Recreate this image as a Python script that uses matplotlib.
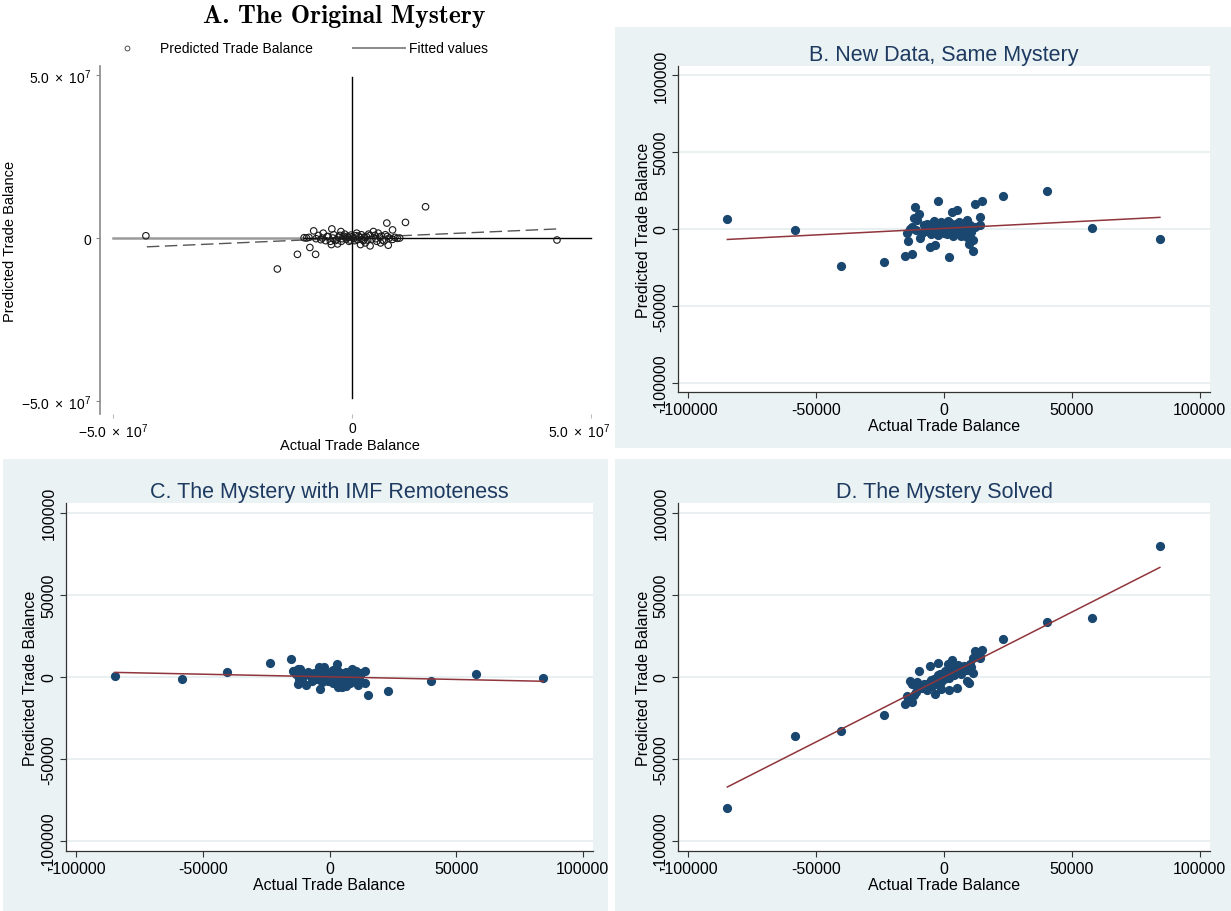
import numpy as np
import matplotlib.pyplot as plt
import matplotlib.transforms as mtransforms
from matplotlib.patches import Rectangle
from matplotlib.lines import Line2D

plt.rcParams['font.family'] = ['Liberation Sans', 'DejaVu Sans']
plt.rcParams['mathtext.fontset'] = 'custom'
plt.rcParams['mathtext.rm'] = 'Liberation Sans'
plt.rcParams['mathtext.it'] = 'Liberation Sans:italic'

W, H = 1231, 912

# ---- panel A data (units of 1e7) ----
xa = [-4.31, 4.29, 1.54, 1.12, 0.73, 0.85, -1.56, -1.14, -0.76, -0.88, -0.80, -0.42,
      -0.23, 0.38, 0.18, 0.76, -0.43,
      -0.95, -0.90, -0.75, -0.70, -0.62, -0.55, -0.50, -0.45, -0.38, -0.32, -0.28,
      -0.22, -0.18, -0.12, -0.08, -0.04, 0.00, 0.04, 0.08, 0.12, 0.16, 0.20, 0.24,
      0.30, 0.35, 0.42, 0.48, 0.52, 0.58, 0.64, 0.70, 0.78, 0.85, 0.90, 0.95,
      -0.60, 0.45, 0.60, -0.30, 0.10, -0.15, 0.28, 0.55,
      -0.65, -0.52, -0.40, -0.35, -0.25, -0.20, -0.10, -0.06, -0.02, 0.02,
      0.06, 0.14, 0.22, 0.26, 0.33, 0.38, 0.50, 0.62, 0.67, 0.74, 1.00, -1.00]
ya = [0.07, -0.06, 0.96, 0.48, 0.46, 0.25, -0.95, -0.50, -0.50, -0.29, 0.22, 0.28,
      0.20, -0.24, -0.20, -0.22, -0.20,
      0.00, 0.02, -0.02, 0.08, 0.00, -0.08, 0.05, -0.10, 0.10, -0.05, 0.03,
      -0.10, 0.06, -0.03, 0.02, -0.06, 0.04, -0.02, 0.07, -0.05, 0.02, 0.10, -0.08,
      0.05, 0.12, -0.03, 0.08, -0.10, 0.03, -0.06, 0.10, 0.00, -0.04, 0.02, -0.01,
      0.15, 0.20, -0.15, -0.18, 0.15, 0.12, -0.15, 0.15,
      -0.05, 0.04, 0.00, -0.08, 0.08, -0.02, 0.05, -0.10, 0.09, 0.00,
      -0.08, 0.06, -0.04, 0.03, -0.06, 0.08, -0.02, 0.06, -0.09, 0.05, 0.00, 0.01]
fit_a = (0.064, 0.005)          # slope, intercept (1e7 units)
fit_a_range = (-4.29, 4.31)

# ---- panels B, C, D data (same actual trade balance) ----
actual = [-84700, -58300, -40400, -23400, -15300, -12600, 23100, 40100, 58000, 84400,
          15000, 12300, 14200, 13900, -11500, -9700, -11900, -10600, -14400, -14200,
          -13400, -9200, -5600, -3600, -2300, 1900, 3100, 5100, 8900, 11200,
          11500, 9700, 8900, 3400, -4100, -1200, -12400, -8000, -7000, -6000,
          -5000, -4500, -3500, -3000, -2500, -2000, -1500, -1000, -500, 0,
          500, 1000, 1500, 2000, 2500, 3000, 3500, 4000, 4500, 5000,
          5500, 6000, 6500, 7000, 7500, 8000, 9000, 10000, 10500, -6500,
          -8500, 6500, 12000, -11000, 1500]
pred_b = [6700, -400, -24300, -21700, -17800, -16300, 21700, 24500, 700, -6500,
          18000, 16300, 2800, 7600, 14300, 10000, 7400, 5600, -2400, -7600,
          200, -5600, -11900, -10600, 18500, -18000, 10900, 12200, 6100, -14300,
          -7400, -9600, -5200, -4800, 5000, 4600, 1000, 2500, -1500, 1000,
          -3500, 3500, -2000, 1500, -4000, 2500, -1000, 500, 3000, -2500,
          1500, -3500, 2000, -500, 4000, -2000, 1000, -3000, 3500, 500,
          -1500, 4500, -1000, 2000, -3500, 1000, -1000, 2500, -2000, 3500,
          -2500, -4500, 1500, -500, 5000]
pred_c = [600, -1400, 3000, 8300, 11000, -4100, -8300, -2600, 1600, -600,
          -11200, 2500, 3900, -3400, 4800, 2000, -1500, 800, 3700, 3400,
          2000, -4700, 1200, -7300, 5900, -2000, 7700, -6100, 4700, -5100,
          -2000, 2500, -1800, -6100, 6100, 2300, 5100, 1500, -2500, 2500,
          -1000, 3000, 1500, -3000, 500, 3500, -1500, 1000, -2500, 2000,
          -500, 3500, -3500, 1500, -1000, 4000, -2500, 500, 2500, -4500,
          1500, -3000, 3000, -1500, 1000, -3500, 2000, -2500, 3500, -500,
          3000, -5500, 1500, -2500, 4500]
pred_d = [-79900, -35900, -33100, -22900, -16400, -15400, 23100, 33500, 35900, 79900,
          16600, 15600, 11600, 12500, -4500, 3900, -11200, -3000, -11600, -12800,
          -2200, -5800, 6700, -10300, 8300, -7700, 10500, -6700, 5200, 2400,
          11600, -3400, -2500, 3000, -1500, -7100, -4000, -4500, -6000, -3500,
          -2000, -5500, -1000, -4000, 1000, -2500, 2000, -3000, 1500, -1000,
          3500, 500, 4500, -500, 6000, 2500, 5500, 1000, 6500, 3000,
          7500, 4000, 2000, 6000, 3500, 7000, 4500, 8000, 6000, -8000,
          -6500, 5000, 12500, -9000, 8000]
fit_b = (0.085, 400)
fit_c = (-0.032, 100)
fit_d = (0.791, 0)

ticks = [-100000, -50000, 0, 50000, 100000]

BG = '#EAF2F3'
GRID = '#E4EDEF'
NAVY = '#1A476F'
MAROON = '#90353B'
TITLE = '#1E3A60'


def rect(l, t, r, b):
    return [l / W, 1 - b / H, (r - l) / W, (b - t) / H]


fig = plt.figure(figsize=(W / 100, H / 100), dpi=100)

# ---------------- panel A ----------------
axA = fig.add_axes(rect(100, 67, 600, 415))
xa_ = np.array(xa) * 1e7
ya_ = np.array(ya) * 1e7
axA.plot([0, 0], [-4.9e7, 4.95e7], color='black', lw=1, zorder=2)
axA.plot([-5e7, 0], [0, 0], color='#9a9a9a', lw=1.8, zorder=2)
axA.plot([-1e7, 5e7], [0, 0], color='black', lw=1, zorder=2)
fx = np.array(fit_a_range) * 1e7
axA.plot(fx, fit_a[0] * fx + fit_a[1] * 1e7, color='#555555', lw=1,
         dashes=(9, 4), zorder=2)
axA.scatter(xa_, ya_, s=22, facecolors='none', edgecolors='#1a1a1a',
            linewidths=0.8, zorder=3)
axA.set_xlim(-5.27e7, 5.19e7)
axA.set_ylim(-5.4e7, 5.28e7)
for s in ['top', 'right', 'bottom']:
    axA.spines[s].set_visible(False)
axA.spines['left'].set_color('#8a8a8a')
axA.spines['left'].set_linewidth(1.2)
tA = [-5e7, 0, 5e7]
labA = [r'$-5.0\ \times\ 10^{7}$', '0', r'$5.0\ \times\ 10^{7}$']
axA.set_xticks(tA)
axA.set_xticklabels(labA, fontsize=10)
axA.set_yticks(tA)
axA.set_yticklabels(labA, fontsize=10)
axA.tick_params(axis='x', length=3, color='#bbbbbb', pad=2)
axA.tick_params(axis='y', length=3, color='#8a8a8a', pad=3)
# the right-most x label sits a little left of its tick in the original
shift = mtransforms.ScaledTranslation(-0.12, 0, fig.dpi_scale_trans)
last = axA.get_xticklabels()[-1]
last.set_transform(last.get_transform() + shift)
axA.set_xlabel('Actual Trade Balance', fontsize=10.5, labelpad=-1)
axA.set_ylabel('Predicted Trade Balance', fontsize=10.5, labelpad=3)
fig.text(344 / W, 1 - 16 / H, 'A. The Original Mystery', family='cmb10',
         fontsize=18.5, ha='center', va='center')
# legend row
fig.add_artist(Line2D([127 / W], [1 - 49 / H], marker='o', markersize=3.5,
                      markerfacecolor='none', markeredgecolor='#333333',
                      markeredgewidth=0.6, transform=fig.transFigure))
fig.text(160 / W, 1 - 49 / H, 'Predicted Trade Balance', fontsize=10,
         ha='left', va='center')
fig.add_artist(Line2D([353 / W, 405 / W], [1 - 49 / H, 1 - 49 / H],
                      color='#8a8a8a', lw=1.4, transform=fig.transFigure))
fig.text(409 / W, 1 - 49 / H, 'Fitted values', fontsize=10,
         ha='left', va='center')


# ---------------- panels B, C, D ----------------
def stata_panel(box, axbox, title, ys, fit):
    l, t, r, b = box
    fig.patches.append(Rectangle((l / W, 1 - b / H), (r - l) / W, (b - t) / H,
                                 transform=fig.transFigure, facecolor=BG,
                                 edgecolor='none', zorder=-10))
    ax = fig.add_axes(rect(*axbox))
    ax.set_facecolor('white')
    ax.scatter(actual, ys, s=44, color=NAVY, linewidths=0, zorder=3)
    xs = np.array([min(actual), max(actual)])
    ax.plot(xs, fit[0] * xs + fit[1], color=MAROON, lw=1.1, zorder=4)
    ax.set_xlim(-104000, 104000)
    ax.set_ylim(-106000, 106000)
    ax.set_xticks(ticks)
    ax.set_xticklabels([str(v) for v in ticks], fontsize=11.5)
    ax.set_yticks(ticks)
    ax.set_yticklabels([str(v) for v in ticks], fontsize=11.5, rotation=90,
                       va='center')
    ax.grid(axis='y', color=GRID, lw=1.2)
    ax.set_axisbelow(True)
    ax.spines['top'].set_visible(False)
    ax.spines['right'].set_visible(False)
    for s in ['left', 'bottom']:
        ax.spines[s].set_color('#333333')
        ax.spines[s].set_linewidth(0.9)
    ax.tick_params(length=4, width=0.8, color='#333333', pad=3)
    ax.set_xlabel('Actual Trade Balance', fontsize=11.5, labelpad=1)
    ax.set_ylabel('Predicted Trade Balance', fontsize=11.5, labelpad=2)
    ax.set_title(title, fontsize=15.5, color=TITLE, pad=4)
    return ax


stata_panel((615, 28, 1231, 449), (678, 67, 1210, 393),
            'B. New Data, Same Mystery', pred_b, fit_b)
stata_panel((3, 460, 608, 912), (66, 504, 593, 852),
            'C. The Mystery with IMF Remoteness', pred_c, fit_c)
stata_panel((615, 460, 1231, 912), (678, 504, 1210, 852),
            'D. The Mystery Solved', pred_d, fit_d)

fig.savefig('out.png', dpi=100)
